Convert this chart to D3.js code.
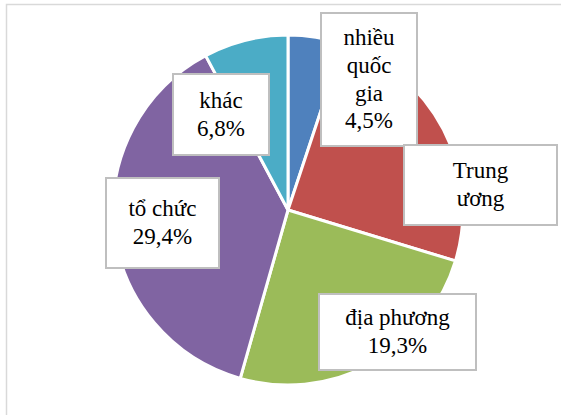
<!DOCTYPE html>
<html>
<head>
<meta charset="utf-8">
<script src="https://cdn.jsdelivr.net/npm/d3@7/dist/d3.min.js"></script>
<style>
  @font-face {
    font-family: 'LabelSerif';
    src: local('Liberation Serif'), local('LiberationSerif'), local('LiberationSerif-Regular');
  }
  html, body { margin: 0; padding: 0; background: #fff; }
  #chart { position: relative; width: 561px; height: 415px; overflow: hidden; }
  svg { display: block; position: absolute; left: 0; top: 0; }
  .lbl {
    position: absolute;
    box-sizing: border-box;
    background: #fff;
    border: 2px solid #bfbfbf;
    display: flex;
    flex-direction: column;
    justify-content: center;
    align-items: center;
    color: #000;
    text-align: center;
  }
</style>
</head>
<body style="font-family: 'Liberation Serif', serif;">
<div id="chart" style="font-family: 'Liberation Serif', serif;"></div>
<script>
(function () {
  const W = 561, H = 415;

  // ── Data ──────────────────────────────────────────────────────────────────
  const CATEGORIES = ['nhiều quốc gia', 'Trung ương', 'địa phương', 'tổ chức', 'khác'];
  // slice shares as drawn in the picture
  const VALUES     = [5.1, 24.6, 24.7, 37.8, 7.8];
  // label texts as printed (one entry per line)
  const LABELS = [
    ['nhiều', 'quốc', 'gia', '4,5%'],
    ['Trung', 'ương'],
    ['địa phương', '19,3%'],
    ['tổ chức', '29,4%'],
    ['khác', '6,8%']
  ];

  const COLORS = ['#4f81bd', '#c0504d', '#9bbb59', '#8064a2', '#4bacc6'];

  // label box placement (x, y, w, h)
  const BOXES = [
    [320, 12, 98, 135],
    [403, 144, 155, 82],
    [318, 293, 159, 78],
    [105, 177, 115, 92],
    [172, 73, 98, 83]
  ];

  const CX = 288, CY = 210, R = 175;
  const FONT = "'Liberation Serif', LabelSerif, serif";

  const root = d3.select('#chart');
  const svg = root.append('svg')
    .attr('width', W).attr('height', H);

  // chart area frame
  svg.append('rect')
    .attr('x', 6.5).attr('y', 4.5)
    .attr('width', W).attr('height', H)
    .attr('fill', '#fff')
    .attr('stroke', '#d9d9d9')
    .attr('stroke-width', 1.5);

  const pie = d3.pie().sort(null).value(function (d) { return d; });
  const arc = d3.arc().innerRadius(0).outerRadius(R);
  const color = d3.scaleOrdinal().domain(CATEGORIES).range(COLORS);

  svg.append('g')
    .attr('transform', 'translate(' + CX + ',' + CY + ')')
    .selectAll('path')
    .data(pie(VALUES))
    .join('path')
    .attr('d', arc)
    .attr('fill', function (d, i) { return color(CATEGORIES[i]); })
    .attr('stroke', '#fff')
    .attr('stroke-width', 3)
    .attr('stroke-linejoin', 'round');

  // data labels (HTML boxes over the svg)
  root.selectAll('div.lbl')
    .data(CATEGORIES)
    .join('div')
    .attr('class', 'lbl')
    .style('left',   function (d, i) { return BOXES[i][0] + 'px'; })
    .style('top',    function (d, i) { return BOXES[i][1] + 'px'; })
    .style('width',  function (d, i) { return BOXES[i][2] + 'px'; })
    .style('height', function (d, i) { return BOXES[i][3] + 'px'; })
    .style('font-family', FONT)
    .style('font-size', '23px')
    .style('line-height', '27.6px')
    .selectAll('span')
    .data(function (d, i) { return LABELS[i]; })
    .join('span')
    .style('font-family', FONT)
    .text(function (d) { return d; });
})();
</script>
</body>
</html>
